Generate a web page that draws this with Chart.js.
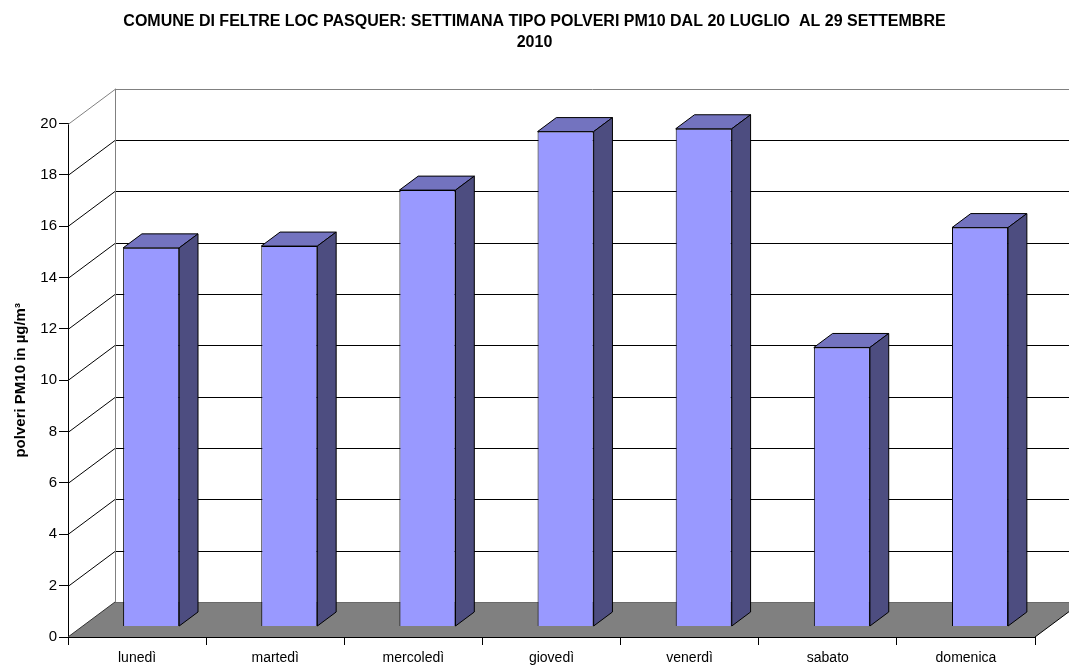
<!DOCTYPE html>
<html>
<head>
<meta charset="utf-8">
<script src="https://cdn.jsdelivr.net/npm/chart.js@4/dist/chart.umd.min.js"></script>
<style>
    html, body { margin: 0; padding: 0; background: #fff; }
    #box { width: 1069px; height: 666px; }
</style>
</head>
<body>
<div id="box"><canvas id="pm10Chart" width="1069" height="666"></canvas></div>
<script>
const giorni = ["lunedì", "martedì", "mercoledì", "giovedì", "venerdì", "sabato", "domenica"]
const pm10 = [14.75, 14.82, 17.0, 19.28, 19.39, 10.87, 15.54]
const yMin = 0
const yMax = 20
const yStep = 2
const titolo = ["COMUNE DI FELTRE LOC PASQUER: SETTIMANA TIPO POLVERI PM10 DAL 20 LUGLIO  AL 29 SETTEMBRE", "2010"]
const yTitolo = "polveri PM10 in µg/m³"

const FONT = "'Liberation Sans', Arial, sans-serif"
// profondità della scatola 3d (parete di fondo) e posizione delle barre dentro
const DEPTH = { dx: 47, dy: -35 }
const BAR_FRONT = 0.3
const BAR_DEPTH = 0.4
const COLORS = { front: "#9999ff", top: "#7373bf", side: "#4d4d80", floor: "#808080", wall: "#808080" }

const line = (ctx, x1, y1, x2, y2, color) => {
    ctx.strokeStyle = color
    ctx.lineWidth = 1
    ctx.beginPath()
    ctx.moveTo(x1, y1)
    ctx.lineTo(x2, y2)
    ctx.stroke()
}

const poly = (ctx, pts, fill, stroke) => {
    ctx.beginPath()
    ctx.moveTo(pts[0][0], pts[0][1])
    for (const p of pts.slice(1)) ctx.lineTo(p[0], p[1])
    ctx.closePath()
    ctx.fillStyle = fill
    ctx.fill()
    if (stroke) { ctx.strokeStyle = stroke; ctx.lineWidth = 1; ctx.stroke() }
}

const box3d = {
    id: "box3d",
    beforeDatasetsDraw(chart) {
        const { ctx, chartArea: a, scales: { y } } = chart
        const { dx, dy } = DEPTH
        ctx.save()
        // pavimento
        poly(ctx, [[a.left, a.bottom], [a.right, a.bottom], [a.right + dx, a.bottom + dy], [a.left + dx, a.bottom + dy]], COLORS.floor)
        line(ctx, a.left + dx, a.bottom + dy + 0.5, a.right + dx, a.bottom + dy + 0.5, "#6a6a6a")
        // griglia sulla parete laterale e di fondo
        for (let v = yMin + yStep; v <= yMax; v += yStep) {
            const py = Math.round(y.getPixelForValue(v)) + 0.5
            const c = v === yMax ? COLORS.wall : "#000"
            line(ctx, a.left, py, a.left + dx, py + dy, c)
            line(ctx, a.left + dx, py + dy, a.right + dx, py + dy, c)
        }
        const x0 = Math.round(a.left + dx) + 0.5
        line(ctx, x0, a.top + dy, x0, a.bottom + dy, COLORS.wall)
        line(ctx, a.left, a.bottom, a.left + dx, a.bottom + dy, "#333")
        line(ctx, a.right, a.bottom, a.right + dx, a.bottom + dy, "#000")
        ctx.restore()
    },
    beforeDatasetDraw(chart) {
        chart.ctx.save()
        chart.ctx.translate(DEPTH.dx * BAR_FRONT, DEPTH.dy * BAR_FRONT)
    },
    afterDatasetDraw(chart, args) {
        const ctx = chart.ctx
        const sdx = DEPTH.dx * BAR_DEPTH
        const sdy = DEPTH.dy * BAR_DEPTH
        for (const bar of args.meta.data) {
            const l = bar.x - bar.width / 2
            const r = bar.x + bar.width / 2
            poly(ctx, [[l, bar.y], [r, bar.y], [r + sdx, bar.y + sdy], [l + sdx, bar.y + sdy]], COLORS.top, "#000")
            poly(ctx, [[r, bar.y], [r + sdx, bar.y + sdy], [r + sdx, bar.base + sdy], [r, bar.base]], COLORS.side, "#000")
        }
        ctx.restore()
    }
}

new Chart(document.getElementById("pm10Chart"), {
    type: "bar",
    data: {
        labels: giorni,
        datasets: [{
            label: "PM10",
            data: pm10,
            backgroundColor: COLORS.front,
            borderColor: "#000",
            borderWidth: 1,
            barPercentage: 0.406,
            categoryPercentage: 1
        }]
    },
    options: {
        responsive: false,
        animation: false,
        layout: { padding: 0 },
        plugins: {
            legend: { display: false },
            tooltip: { enabled: false },
            title: {
                display: true,
                text: titolo,
                color: "#000",
                font: { family: FONT, size: 16, weight: "bold", lineHeight: 1.3 },
                padding: { top: 11, bottom: 71 }
            }
        },
        scales: {
            x: {
                offset: true,
                grid: { offset: true, drawOnChartArea: false, drawTicks: true, tickLength: 8, color: "#000" },
                border: { display: true, color: "#000" },
                ticks: { color: "#000", font: { family: FONT, size: 14 }, padding: 5, maxRotation: 0 },
                afterFit: (scale) => { scale.height = 29 }
            },
            y: {
                min: yMin,
                max: yMax,
                grid: { drawOnChartArea: false, drawTicks: true, tickLength: 9, color: "#000" },
                border: { display: true, color: "#000" },
                ticks: { stepSize: yStep, color: "#000", font: { family: FONT, size: 15 }, padding: 2 },
                title: {
                    display: true,
                    text: yTitolo,
                    color: "#000",
                    font: { family: FONT, size: 15, weight: "bold" },
                    padding: { top: 12, bottom: 0 }
                },
                afterFit: (scale) => { scale.width = 68 }
            },
            // spazio vuoto a destra per la profondità della parete di fondo
            yDestra: {
                position: "right",
                min: yMin,
                max: yMax,
                grid: { display: false },
                border: { display: false },
                ticks: { display: false },
                afterFit: (scale) => { scale.width = 34 }
            }
        }
    },
    plugins: [box3d]
})
</script>
</body>
</html>
